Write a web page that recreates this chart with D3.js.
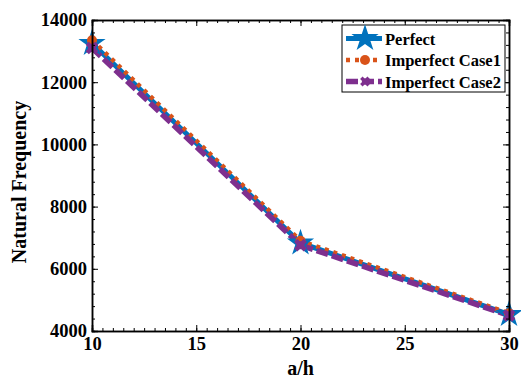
<!DOCTYPE html>
<html>
<head>
<meta charset="utf-8">
<script src="https://cdn.jsdelivr.net/npm/d3@7"></script>
<style>
  body { margin: 0; background: #fff; }
  text { font-family: "Liberation Serif", "Times New Roman", serif; font-weight: bold; }
</style>
</head>
<body>
<div id="chart"></div>
<script>
// data
const ratios = [10, 20, 30];
const perfect = [13250, 6830, 4530];
const imperfect1 = [13350, 6900, 4570];
const imperfect2 = [13100, 6760, 4500];
const seriesNames = ["Perfect", "Imperfect Case1", "Imperfect Case2"];
const xTicks = [10, 15, 20, 25, 30];
const yTicks = [4000, 6000, 8000, 10000, 12000, 14000];

const W = 521, H = 381;
const margin = {top: 20, right: 12, bottom: 50, left: 92};

const svg = d3.select("#chart").append("svg")
    .attr("width", W)
    .attr("height", H);

const x = d3.scaleLinear().domain([10, 30]).range([margin.left, W - margin.right]);
const y = d3.scaleLinear().domain([4000, 14000]).range([H - margin.bottom, margin.top]);

const series = [
    {name: seriesNames[0], values: perfect, color: "#0072BD", width: 5, dash: null, marker: "star"},
    {name: seriesNames[1], values: imperfect1, color: "#D95319", width: 4.5, dash: "4,5", marker: "circle"},
    {name: seriesNames[2], values: imperfect2, color: "#7E2F8E", width: 5.5, dash: "12,4", marker: "x"}
];

// clip lines to plot box
svg.append("clipPath").attr("id", "plotClip")
    .append("rect")
    .attr("x", x(10)).attr("y", y(14000))
    .attr("width", x(30) - x(10)).attr("height", y(4000) - y(14000));

const line = d3.line()
    .x((d, i) => x(ratios[i]))
    .y(d => y(d));

function drawMarker(g, type, color, scale) {
    scale = scale || 1;
    if (type === "star") {
        g.append("path")
            .attr("d", d3.symbol().type(d3.symbolStar).size(230 * scale)())
            .attr("fill", color);
    } else if (type === "circle") {
        g.append("circle").attr("r", 5 * Math.sqrt(scale)).attr("fill", color);
    } else {
        g.append("path")
            .attr("d", d3.symbol().type(d3.symbolCross).size(100 * scale)())
            .attr("transform", "rotate(45)")
            .attr("fill", color);
        g.append("circle").attr("r", 4 * Math.sqrt(scale)).attr("fill", color);
    }
}

const plot = svg.append("g").attr("clip-path", "url(#plotClip)");

series.forEach(s => {
    plot.append("path")
        .datum(s.values)
        .attr("d", line)
        .attr("fill", "none")
        .attr("stroke", s.color)
        .attr("stroke-width", s.width)
        .attr("stroke-dasharray", s.dash);
});

// markers drawn unclipped
series.forEach(s => {
    s.values.forEach((v, i) => {
        const g = svg.append("g").attr("transform", `translate(${x(ratios[i])},${y(v)})`);
        drawMarker(g, s.marker, s.color);
    });
});

// axes box with inward ticks
const xMinor = d3.range(10, 30.001, 0.5);
const yMinor = d3.range(4000, 14001, 400);

const axisG = svg.append("g");

axisG.append("g")
    .attr("transform", `translate(0,${y(4000)})`)
    .call(d3.axisBottom(x).tickValues(xMinor).tickSize(-3).tickFormat(""));
axisG.append("g")
    .attr("transform", `translate(0,${y(4000)})`)
    .call(d3.axisBottom(x).tickValues(xTicks).tickSize(-6).tickPadding(6).tickFormat(d3.format("d")));
axisG.append("g")
    .attr("transform", `translate(0,${y(14000)})`)
    .call(d3.axisTop(x).tickValues(xMinor).tickSize(-3).tickFormat(""));
axisG.append("g")
    .attr("transform", `translate(0,${y(14000)})`)
    .call(d3.axisTop(x).tickValues(xTicks).tickSize(-6).tickFormat(""));

axisG.append("g")
    .attr("transform", `translate(${x(10)},0)`)
    .call(d3.axisLeft(y).tickValues(yMinor).tickSize(-3).tickFormat(""));
axisG.append("g")
    .attr("transform", `translate(${x(10)},0)`)
    .call(d3.axisLeft(y).tickValues(yTicks).tickSize(-6).tickPadding(5).tickFormat(d3.format("d")));
axisG.append("g")
    .attr("transform", `translate(${x(30)},0)`)
    .call(d3.axisRight(y).tickValues(yMinor).tickSize(-3).tickFormat(""));
axisG.append("g")
    .attr("transform", `translate(${x(30)},0)`)
    .call(d3.axisRight(y).tickValues(yTicks).tickSize(-6).tickFormat(""));

axisG.selectAll(".domain").attr("stroke", "#000").attr("stroke-width", 1.5);
axisG.selectAll(".tick line").attr("stroke", "#000").attr("stroke-width", 1);
axisG.selectAll(".tick text")
    .attr("fill", "#000")
    .style("font-size", "18.5px")
    .style("font-family", "'Liberation Serif', serif")
    .style("font-weight", "bold");

// axis titles
svg.append("text")
    .attr("x", (x(10) + x(30)) / 2)
    .attr("y", 375)
    .attr("text-anchor", "middle")
    .style("font-size", "20px")
    .text("a/h");

svg.append("text")
    .attr("transform", "translate(26,182) rotate(-90)")
    .attr("text-anchor", "middle")
    .style("font-size", "20px")
    .text("Natural Frequency");

// legend
const legend = svg.append("g").attr("transform", "translate(342,25)");
legend.append("rect")
    .attr("width", 163).attr("height", 67)
    .attr("fill", "#fff").attr("stroke", "#000").attr("stroke-width", 1);

series.forEach((s, i) => {
    const row = legend.append("g").attr("transform", `translate(0,${13.5 + i * 21.5})`);
    row.append("line")
        .attr("x1", 4).attr("x2", 40)
        .attr("stroke", s.color)
        .attr("stroke-width", s.width)
        .attr("stroke-dasharray", s.dash);
    const m = row.append("g").attr("transform", "translate(23,0)");
    drawMarker(m, s.marker, s.color, i === 2 ? 0.6 : 1);
    row.append("text")
        .attr("x", 43).attr("y", 6)
        .style("font-size", "16.5px")
        .text(s.name);
});
</script>
</body>
</html>
